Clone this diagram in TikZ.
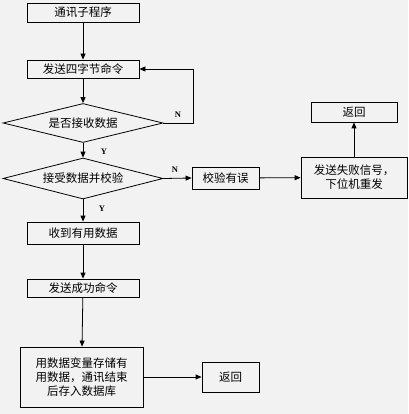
\documentclass[tikz,border=0pt]{standalone}
\usepackage{fontspec}
\newfontfamily\cjk{Noto Sans CJK SC}
\newfontfamily\lbl{Liberation Serif}
\usetikzlibrary{shapes.geometric,arrows.meta}
\definecolor{bg}{HTML}{F2F2F2}
\begin{document}
\begin{tikzpicture}[x=1pt,y=-1pt,
  every node/.style={font=\cjk\fontsize{11.5}{14}\selectfont},
  box/.style={draw=black,line width=0.8pt,fill=bg,inner sep=0pt,align=center},
  dia/.style={draw=black,line width=0.8pt,fill=bg,diamond,aspect=4,inner sep=0pt,minimum width=160pt},
  arr/.style={draw=black,line width=0.8pt,-{Triangle[length=6pt,width=5pt]}},
  yn/.style={font=\lbl\bfseries\fontsize{8.5}{9}\selectfont,inner sep=0pt}]
\fill[bg] (0,0) rectangle (408,414);
\useasboundingbox (0,0) rectangle (408,414);
\node[box,minimum width=112pt,minimum height=19pt] (b1) at (83,12.5) {通讯子程序};
\node[box,minimum width=112pt,minimum height=18pt] (b2) at (83,69) {发送四字节命令};
\node[dia,minimum height=39pt] (d1) at (83,123) {是否接收数据};
\node[dia,minimum height=41pt] (d2) at (83,178.5) {接受数据并校验};
\node[box,minimum width=67pt,minimum height=22pt] (err) at (225.5,178) {校验有误};
\node[box,minimum width=106pt,minimum height=41pt] (fail) at (354,177.5) {发送失败信号，\\下位机重发};
\node[box,minimum width=86pt,minimum height=20pt] (ret1) at (354,112) {返回};
\node[box,minimum width=112pt,minimum height=22pt] (got) at (83,233) {收到有用数据};
\node[box,minimum width=112pt,minimum height=18pt] (succ) at (83,288) {发送成功命令};
\node[box,minimum width=123pt,minimum height=60pt] (store) at (81.5,377) {用数据变量存储有\\用数据，通讯结束\\后存入数据库};
\node[box,minimum width=57pt,minimum height=30pt] (ret2) at (230.5,377) {返回};
\coordinate (lp1) at (193,123);
\coordinate (lp2) at (193,69);
\draw[arr] (b1) -- (b2);
\draw[arr] (b2) -- (d1);
\draw[arr] (d1.east) -- (lp1) -- (lp2) -- (b2.east);
\draw[arr] (d1) -- (d2);
\draw[arr] (d2.east) -- (err.west);
\draw[arr] (err) -- (fail);
\draw[arr] (fail) -- (ret1);
\draw[arr] (d2) -- (got);
\draw[arr] (got) -- (succ);
\draw[arr] (succ) -- (store);
\draw[arr] (store) -- (ret2);
\node[yn] (n1) at (178,115) {N};
\node[yn] (y1) at (104,152) {Y};
\node[yn] (n2) at (175,170) {N};
\node[yn] (y2) at (102,209) {Y};
\end{tikzpicture}
\end{document}
